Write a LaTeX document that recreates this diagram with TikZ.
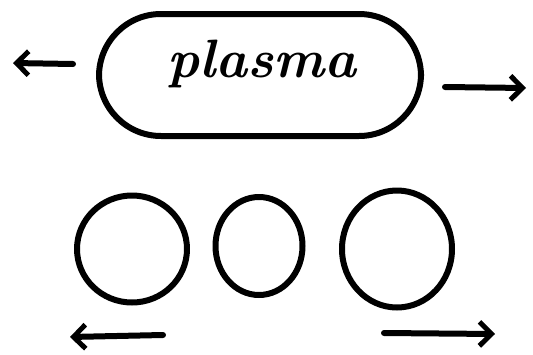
\documentclass[tikz,border=0pt]{standalone}
\usetikzlibrary{arrows.meta,shapes.geometric}
\tikzset{
  ink/.style={line width=6pt, line cap=round, line join=round},
  blob/.style={ink, draw, ellipse, inner sep=0pt},
  pill/.style={ink, draw, rectangle, rounded corners=62pt, inner sep=0pt},
  push/.style={ink, -{Straight Barb[length=12pt,width=24pt,line width=5pt]}},
}
\begin{document}
\begin{tikzpicture}[x=1pt,y=-1pt]
\useasboundingbox (0,0) rectangle (533,354);
\node[pill, minimum width=322pt, minimum height=122pt] (plasma) at (260,75) {};
\node[font=\fontsize{54}{54}\selectfont\itshape\bfseries] (word) at (262,64) {plasma};
\coordinate (tl0) at (73,64);  \coordinate (tl1) at (13,63);
\coordinate (tr0) at (445,87); \coordinate (tr1) at (526,88);
\draw[push] (tl0) -- (tl1);
\draw[push] (tr0) -- (tr1);
\node[blob, minimum width=110pt, minimum height=107pt] (c1) at (132,249) {};
\node[blob, minimum width=87pt, minimum height=98pt] (c2) at (259,246) {};
\node[blob, minimum width=110pt, minimum height=117pt] (c3) at (397,249) {};
\coordinate (bl0) at (163,335); \coordinate (bl1) at (70,337);
\coordinate (br0) at (384,333); \coordinate (br1) at (495,334);
\draw[push] (bl0) -- (bl1);
\draw[push] (br0) -- (br1);
\end{tikzpicture}
\end{document}
